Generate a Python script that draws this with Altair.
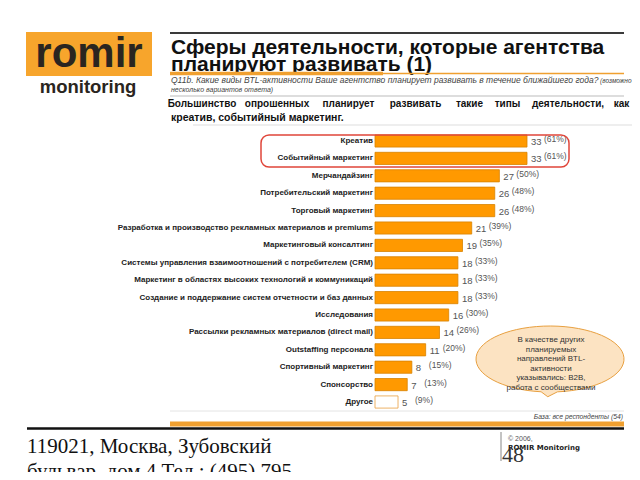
import altair as alt
import pandas as pd

categories = [
    "Креатив",
    "Событийный маркетинг",
    "Мерчандайзинг",
    "Потребительский маркетинг",
    "Торговый маркетинг",
    "Разработка и производство рекламных материалов и premiums",
    "Маркетинговый консалтинг",
    "Системы управления взаимоотношений с потребителем (CRM)",
    "Маркетинг в областях высоких технологий и коммуникаций",
    "Создание и поддержание систем отчетности и баз данных",
    "Исследования",
    "Рассылки рекламных материалов (direct mail)",
    "Outstaffing персонала",
    "Спортивный маркетинг",
    "Спонсорство",
    "Другое",
]
counts = [33, 33, 27, 26, 26, 21, 19, 18, 18, 18, 16, 14, 11, 8, 7, 5]
percents = ["(61%)", "(61%)", "(50%)", "(48%)", "(48%)", "(39%)", "(35%)", "(33%)",
            "(33%)", "(33%)", "(30%)", "(26%)", "(20%)", "(15%)", "(13%)", "(9%)"]

title_lines = ["Сферы деятельности, которые агентства", "планируют развивать (1)"]
question_main = "Q11b. Какие виды BTL-активности Ваше агентство планирует развивать в течение ближайшего года?"
question_tail = "(возможно"
question_line2 = "несколько вариантов ответа)"
summary_words = ["Большинство", "опрошенных", "планирует", "развивать", "такие", "типы",
                 "деятельности,", "как"]
summary_line2 = "креатив, событийный маркетинг."
callout_lines = ["В качестве других", "планируемых", "направлений BTL-", "активности",
                 "указывались: B2B,", "работа с сообществами"]
base_note = "База: все респонденты (54)"
address_lines = ["119021, Москва, Зубовский", "бульвар, дом 4 Тел.: (495) 795"]

df = pd.DataFrame({"cat": categories, "n": counts, "pct": percents})
one = pd.DataFrame({"k": [0]})

FONT = "Liberation Sans"
SERIF = "Liberation Serif"
ORANGE = "#FF9900"
LOGO = "#F7A52C"
LINE_OR = "#F0A030"


def P(v):
    return v - 8


yscale = alt.Scale(domain=categories, range=[P(132.3), P(410.7)], paddingInner=0.3, paddingOuter=0.15)
xscale = alt.Scale(domain=[0, 33], range=[P(375), P(527)])
Y = alt.Y("cat:N", sort=categories, scale=yscale, axis=None)
X = alt.X("n:Q", scale=xscale, axis=None)

bars = alt.Chart(df).mark_bar(strokeWidth=0.8).encode(
    y=Y, x=X, x2=alt.value(P(375)),
    fill=alt.condition(alt.datum.cat == "Другое", alt.value("white"), alt.value(ORANGE)),
    stroke=alt.condition(alt.datum.cat == "Другое", alt.value("#E8A040"), alt.value("#D88300")),
)
cat_labels = alt.Chart(df).mark_text(align="right", baseline="middle", font=FONT, fontSize=8,
                                     fontWeight="bold", color="#222222").encode(
    y=Y, x=alt.value(P(373)), text="cat:N")
num_labels = alt.Chart(df).mark_text(align="left", baseline="middle", dx=4, dy=1, font=FONT,
                                     fontSize=9.5, color="#555555").encode(y=Y, x=X, text="n:Q")
pct_labels = alt.Chart(df).mark_text(align="left", baseline="middle", dx=17, dy=-2, font=FONT,
                                     fontSize=8.5, color="#555555").encode(y=Y, x=X, text="pct:N")


def rule(x1, x2, y1, y2, color, w):
    return alt.Chart(one).mark_rule(color=color, strokeWidth=w).encode(
        x=alt.value(P(x1)), x2=alt.value(P(x2)), y=alt.value(P(y1)), y2=alt.value(P(y2)))


def text(x, y, s, size, color="#111111", weight="normal", align="left", style="normal", font=FONT):
    return alt.Chart(one).mark_text(align=align, baseline="alphabetic", font=font, fontSize=size,
                                    fontWeight=weight, fontStyle=style, color=color).encode(
        x=alt.value(P(x)), y=alt.value(P(y)), text=alt.value(s))


layers = []
# logo
layers.append(alt.Chart(one).mark_rect(color=LOGO).encode(
    x=alt.value(P(26)), x2=alt.value(P(152)), y=alt.value(P(32)), y2=alt.value(P(76))))
layers.append(text(89, 67, "romir", 42, color="#2A2520", weight="bold", align="center"))
layers.append(text(88, 93, "monitoring", 18.5, color="#2A2520", weight="bold", align="center"))
# title block
layers.append(rule(170, 624, 33, 33, "#3A3A3A", 2))
layers.append(text(171, 53.5, title_lines[0], 21, color="#111111", weight="bold"))
layers.append(text(171, 71, title_lines[1], 21, color="#111111", weight="bold"))
layers.append(rule(170, 624, 73.5, 73.5, LINE_OR, 1.5))
layers.append(rule(170, 383, 73.5, 73.5, LINE_OR, 3.5))
layers.append(text(171, 83, question_main, 8.5, color="#444444", style="italic"))
layers.append(text(600, 83, question_tail, 6.5, color="#444444", style="italic"))
layers.append(text(171, 92, question_line2, 7, color="#444444", style="italic"))
layers.append(rule(170, 624, 96, 96, "#BBBBBB", 1))
# justified summary line: words centred on their positions in the reference
word_x = [202, 277, 348.5, 415.5, 469.5, 507.5, 568, 621.5]
for w, xc in zip(summary_words, word_x):
    layers.append(text(xc, 107, w, 10, color="#111111", weight="bold", align="center"))
layers.append(text(171, 121, summary_line2, 10.5, color="#111111", weight="bold"))
layers.append(rule(193, 637, 125, 125, "#DDDDDD", 1.2))
# highlight box
layers.append(alt.Chart(one).mark_rect(fill=None, fillOpacity=0, stroke="#E0463A", strokeWidth=1.5,
                                       cornerRadius=8).encode(
    x=alt.value(P(261)), x2=alt.value(P(569)), y=alt.value(P(135)), y2=alt.value(P(167))))
# callout
cx, cy, rx = 550, 359, 74
path = "M 0.10 0.444 A 1 0.446 0 1 0 -0.12 0.443 L -0.03 0.51 Z"
layers.append(alt.Chart(one).mark_point(shape=path, filled=True, fill="#FCE3C2", stroke="#E8A040",
                                        strokeWidth=1, opacity=1, size=(2 * rx) ** 2).encode(
    x=alt.value(P(cx)), y=alt.value(P(cy))))
for i, s in enumerate(callout_lines):
    layers.append(text(551, 342 + i * 9.6, s, 8, color="#333333", align="center"))
# bottom
layers.append(rule(170, 624, 411, 411, "#E4E4E4", 1))
layers.append(text(623, 419, base_note, 6.8, color="#444444", style="italic", align="right"))
layers.append(rule(170, 624, 424, 424, LINE_OR, 5))
layers.append(rule(27, 624, 428.5, 428.5, "#111111", 2.5))
layers.append(text(27, 453, address_lines[0], 21, color="#111111", font=SERIF))
layers.append(text(27, 478, address_lines[1], 21, color="#111111", font=SERIF))
layers.append(rule(501, 501, 432, 461, "#888888", 1))
layers.append(text(508, 441, "© 2006,", 7, color="#555555"))
layers.append(text(508, 450, "ROMIR Monitoring", 7, color="#222222", weight="bold", font="DejaVu Sans"))
layers.append(text(502, 462, "48", 22, color="#333333", font=SERIF))

chart = alt.layer(bars, cat_labels, num_labels, pct_labels, *layers).properties(
    width=624, height=464, autosize="none", padding=0
).configure_view(stroke=None)

chart.save("out.html", embed_options={"renderer": "svg", "actions": False})
